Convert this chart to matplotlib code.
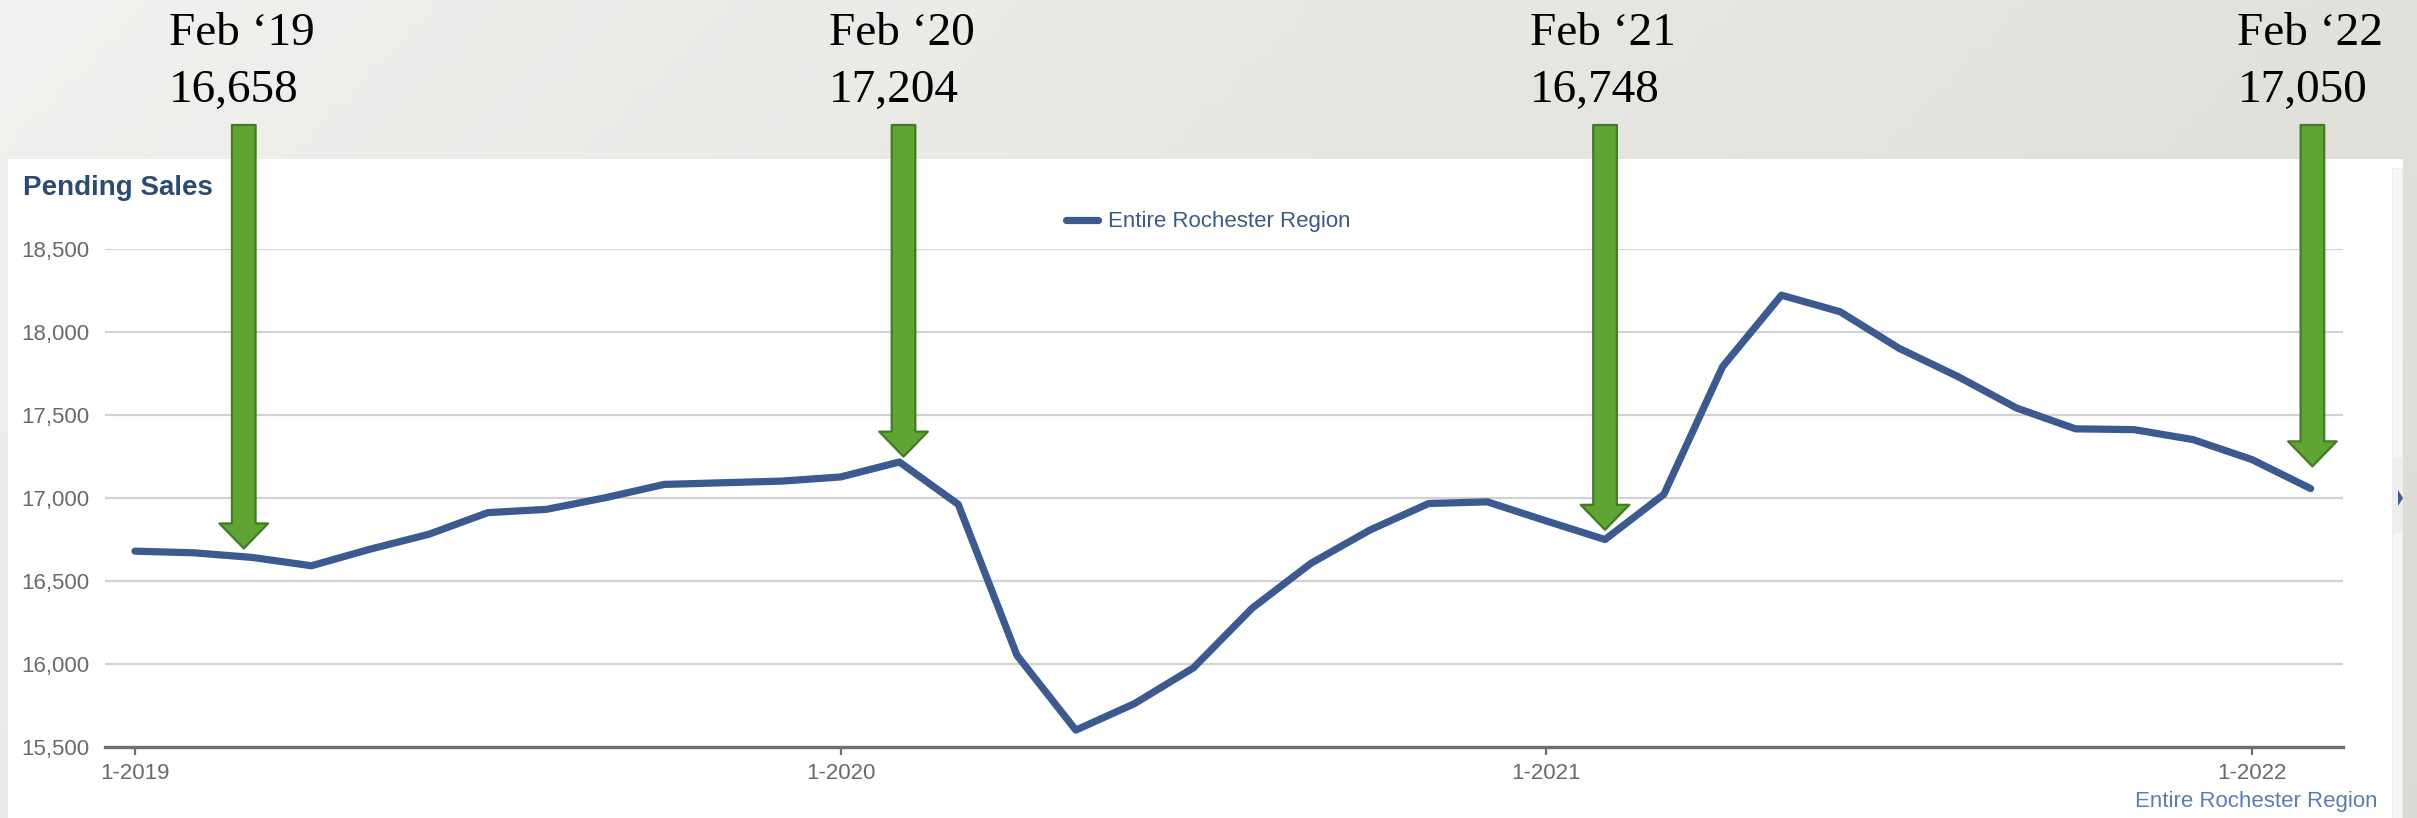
import numpy as np
import pandas as pd
import matplotlib
matplotlib.use('Agg')
import matplotlib.pyplot as plt
from matplotlib.patches import Rectangle, Polygon
from matplotlib.ticker import FuncFormatter

W, H = 2417, 818

# monthly pending sales, Jan 2019 .. Feb 2022
months = pd.date_range('2019-01-01', periods=38, freq='MS')
pending = [16678, 16668, 16640, 16590, 16690, 16780, 16910, 16930, 17000, 17080,
           17090, 17100, 17125, 17215, 16960, 16050, 15600, 15760, 15975, 16335,
           16605, 16805, 16965, 16975, 16860, 16748, 17020, 17790, 18220, 18120,
           17900, 17730, 17540, 17415, 17410, 17350, 17230, 17055]
series_name = 'Entire Rochester Region'

# callouts: label, value shown, where the arrow points (in months from 1-2019)
call_labels = ['Feb \u201819', 'Feb \u201820', 'Feb \u201821', 'Feb \u201822']
call_values = ['16,658', '17,204', '16,748', '17,050']
call_x = [1.85, 13.07, 25.0, 37.03]
call_gap = [6, 6, 7, 16]  # points between arrow tip and line

yticks = [15500, 16000, 16500, 17000, 17500, 18000, 18500]
xtick_idx = [0, 12, 24, 36]
xtick_labels = ['1-2019', '1-2020', '1-2021', '1-2022']

fig = plt.figure(figsize=(W / 100, H / 100), dpi=100)

# slide background gradient + white chart card
bg = fig.add_axes([0, 0, 1, 1], zorder=-10)
bg.set_axis_off()
gx = np.linspace(0, 1, 256)
gy = np.linspace(0, 1, 64)[:, None]
c0 = np.array([0.945, 0.945, 0.937])
c1 = np.array([0.862, 0.858, 0.839])
t = np.clip(0.75 * gx[None, :] + 0.25 * gy, 0, 1)[..., None]
bg.imshow(c0 + (c1 - c0) * t, extent=[0, W, 0, H], aspect='auto', origin='upper')
bg.set_xlim(0, W)
bg.set_ylim(0, H)
bg.add_patch(Rectangle((8, 0), 2395, H - 159, facecolor='white', edgecolor='none'))
bg.add_patch(Rectangle((2392, 0), 10, H - 168, facecolor='#f7f7f8', edgecolor='#ececec', lw=0.8))
bg.add_patch(Rectangle((2392, H - 533), 10, 75, facecolor='#eeeeef', edgecolor='none'))
bg.add_patch(Polygon([[2398, H - 490], [2398, H - 506], [2403, H - 498]], closed=True,
                     facecolor='#3b5b92', edgecolor='none'))

ax = fig.add_axes([105 / W, 1 - 746.7 / H, (2343 - 105) / W, (746.7 - 248.7) / H])
ax.set_facecolor('none')
xs = np.arange(len(pending))
ax.plot(xs, pending, color='#3b5a90', lw=5.2,
        solid_joinstyle='round', solid_capstyle='round', label=series_name, zorder=3)

ax.set_xlim(-0.51, 37.55)
ax.set_ylim(15500, 18500)
ax.set_yticks(yticks)
ax.yaxis.set_major_formatter(FuncFormatter(lambda v, p: '{:,.0f}'.format(v)))
ax.set_xticks(xtick_idx)
ax.set_xticklabels(xtick_labels)
ax.grid(axis='y', color='#d2d2d2', lw=1.6)
ax.set_axisbelow(True)
for s in ['top', 'right', 'left']:
    ax.spines[s].set_visible(False)
ax.spines['bottom'].set_color('#6e6e6e')
ax.spines['bottom'].set_linewidth(2.4)
ax.tick_params(axis='y', length=0, pad=11.5, labelsize=16, labelcolor='#6a6a6a')
ax.tick_params(axis='x', length=6, width=1.6, color='#6e6e6e', pad=6,
               labelsize=16, labelcolor='#6a6a6a')
for lab in ax.get_xticklabels() + ax.get_yticklabels():
    lab.set_fontfamily('Liberation Sans')

ax.legend(loc='center left', bbox_to_anchor=(1066 / W, 1 - 222 / H),
          bbox_transform=fig.transFigure, frameon=False, handlelength=1.45,
          handletextpad=0.45, borderpad=0, borderaxespad=0,
          prop={'family': 'Liberation Sans', 'size': 16}, labelcolor='#3d5a86')

fig.text(22.7 / W, 1 - 195 / H, 'Pending Sales', fontsize=20, fontweight='bold',
         color='#2b4b75', family='Liberation Sans', va='baseline', ha='left')
fig.text(2135 / W, 16 / H, series_name, fontsize=16, color='#5b7db6',
         family='Liberation Sans', va='center', ha='left')

# green callout arrows with labels
for lab, val, cx, gap in zip(call_labels, call_values, call_x, call_gap):
    ax.annotate('', xy=(cx, np.interp(cx, xs, pending)), xycoords='data',
                xytext=(cx, H - 125), textcoords=('data', 'figure pixels'),
                annotation_clip=False, zorder=5,
                arrowprops=dict(arrowstyle='simple,head_length=18,head_width=35,tail_width=17',
                                mutation_scale=1, shrinkA=0, shrinkB=gap,
                                facecolor='#5fa534', edgecolor='#437a22', lw=1.6))
    ax.annotate(lab, xy=(cx, H - 45), xycoords=('data', 'figure pixels'),
                xytext=(-75, 0), textcoords='offset pixels', ha='left', va='baseline',
                fontsize=34, family='Liberation Serif', color='black', annotation_clip=False)
    ax.annotate(val, xy=(cx, H - 101.7), xycoords=('data', 'figure pixels'),
                xytext=(-75, 0), textcoords='offset pixels', ha='left', va='baseline',
                fontsize=34, family='Liberation Serif', color='black', annotation_clip=False)

fig.savefig('out.png', dpi=100)
